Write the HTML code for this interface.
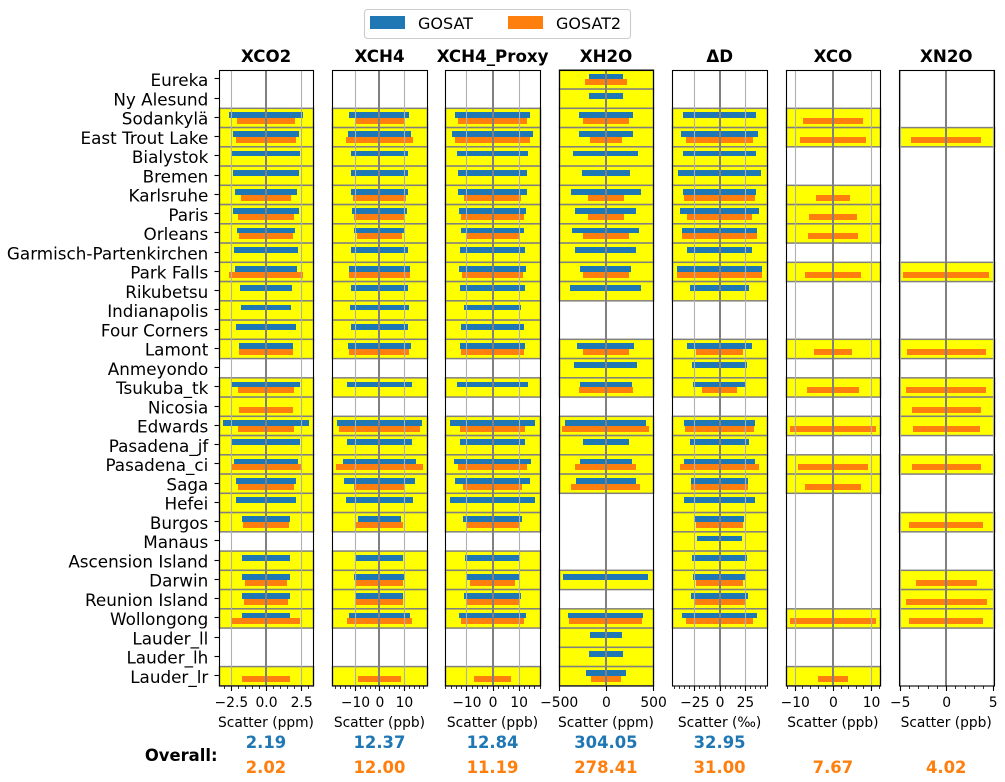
<!DOCTYPE html>
<html lang="en">
<head>
<meta charset="utf-8">
<title>Scatter by station</title>
<style>
html,body{margin:0;padding:0;background:#fff;}
#chart{display:block;}
text{font-family:"DejaVu Sans","Liberation Sans",sans-serif;fill:#000;}
</style>
</head>
<body>
<svg id="chart" xmlns="http://www.w3.org/2000/svg" width="1005" height="782" viewBox="0 0 1005 782"></svg>
<script>
const n = null;
const stations = ["Eureka","Ny Alesund","Sodankylä","East Trout Lake","Bialystok","Bremen","Karlsruhe","Paris","Orleans","Garmisch-Partenkirchen","Park Falls","Rikubetsu","Indianapolis","Four Corners","Lamont","Anmeyondo","Tsukuba_tk","Nicosia","Edwards","Pasadena_jf","Pasadena_ci","Saga","Hefei","Burgos","Manaus","Ascension Island","Darwin","Reunion Island","Wollongong","Lauder_ll","Lauder_lh","Lauder_lr"];
const seriesNames = ["GOSAT","GOSAT2"];

const xco2Gosat  = [n,n,2.63,2.36,2.39,2.36,2.21,2.36,2.07,2.29,2.21,1.82,1.79,2.11,1.93,n,2.43,n,3.07,2.39,2.29,2.14,2.11,1.71,n,1.71,1.68,1.71,1.71,n,n,n];
const xco2Gosat2 = [n,n,2.04,2.14,n,n,1.75,2.00,1.93,n,2.64,n,n,n,1.93,n,2.00,1.93,2.00,n,2.46,2.00,n,1.64,n,n,1.46,1.54,2.39,n,n,1.71];
const xch4Gosat  = [n,n,12.2,12.9,11.6,11.6,11.6,11.2,10.2,11.6,12.4,11.6,11.8,11.6,12.9,n,13.1,n,17.3,13.3,14.7,14.3,13.5,8.8,n,9.6,10.2,9.6,12.4,n,n,n];
const xch4Gosat2 = [n,n,9.9,13.5,n,n,10.8,10.4,9.2,n,12.4,n,n,n,12.2,n,n,n,16.5,n,17.6,10.2,n,9.4,n,n,9.6,9.6,13.1,n,n,8.8];
const proxyGosat  = [n,n,14.3,15.6,13.5,13.1,13.3,12.7,11.8,12.4,12.7,12.5,11.0,11.8,12.5,n,13.5,n,16.3,12.5,14.6,14.3,16.2,11.2,n,10.3,9.9,11.0,12.9,n,n,n];
const proxyGosat2 = [n,n,13.3,14.1,n,n,11.0,11.8,9.9,n,11.6,n,n,n,12.0,n,n,n,12.5,n,13.3,11.2,n,9.9,n,n,8.6,9.9,12.0,n,n,7.0];
const xh2oGosat  = [181,181,288,288,342,256,368,320,352,320,267,374,n,n,299,331,272,n,427,240,277,315,n,n,n,n,448,n,395,165,181,213];
const xh2oGosat2 = [224,n,245,171,n,n,192,192,245,n,245,n,n,n,245,n,288,n,459,n,320,363,n,n,n,n,n,n,384,n,n,155];
const deltaDGosat  = [n,n,36.0,38.0,36.0,41.0,36.0,39.0,37.0,32.1,41.9,29.1,n,n,32.1,27.1,25.7,n,35.0,29.1,35.0,28.1,34.5,24.2,22.2,27.1,25.7,28.1,37.0,n,n,n];
const deltaDGosat2 = [n,n,n,32.6,n,n,35.0,32.1,37.0,n,41.9,n,n,n,23.2,n,17.3,n,34.0,n,39.0,28.1,n,23.2,n,n,23.2,24.7,33.1,n,n,n];
const xcoGosat  = [n,n,n,n,n,n,n,n,n,n,n,n,n,n,n,n,n,n,n,n,n,n,n,n,n,n,n,n,n,n,n,n];
const xcoGosat2 = [n,n,7.85,8.64,n,n,4.32,6.28,6.54,n,7.33,n,n,n,4.97,n,6.81,n,11.26,n,9.16,7.33,n,n,n,n,n,n,11.26,n,n,3.93];
const xn2oGosat  = [n,n,n,n,n,n,n,n,n,n,n,n,n,n,n,n,n,n,n,n,n,n,n,n,n,n,n,n,n,n,n,n];
const xn2oGosat2 = [n,n,n,3.76,n,n,n,n,n,n,4.62,n,n,n,4.25,n,4.30,3.71,3.60,n,3.71,n,n,3.98,n,n,3.28,4.35,3.98,n,n,n];

const overallGosat  = [2.19,12.37,12.84,304.05,32.95,n,n];
const overallGosat2 = [2.02,12.00,11.19,278.41,31.00,7.67,4.02];

const panelTitles = ["XCO2","XCH4","XCH4_Proxy","XH2O","ΔD","XCO","XN2O"];
const axisUnits = ["Scatter (ppm)","Scatter (ppb)","Scatter (ppb)","Scatter (ppm)","Scatter (‰)","Scatter (ppb)","Scatter (ppb)"];
const axisLimits = [3.36,19.3,18.06,500,46.6,12.37,5.08];
const majorTicks = [[-2.5,0,2.5],[-10,0,10],[-10,0,10],[-500,0,500],[-25,0,25],[-10,0,10],[-5,0,5]];
const majorTickLabels = [["−2.5","0.0","2.5"],["−10","0","10"],["−10","0","10"],["−500","0","500"],["−25","0","25"],["−10","0","10"],["−5","0","5"]];
const minorSteps = [0.5,2,2,0,5,2,1];
const gosatSeries = [xco2Gosat,xch4Gosat,proxyGosat,xh2oGosat,deltaDGosat,xcoGosat,xn2oGosat];
const gosat2Series = [xco2Gosat2,xch4Gosat2,proxyGosat2,xh2oGosat2,deltaDGosat2,xcoGosat2,xn2oGosat2];

/* page layout (not data) */
const frameLeft = [219.5,332.5,445.5,559.5,672.5,786.5,899.5];
const frameRight = [313.5,427.5,540.5,653.5,767.5,880.5,994.5];
const zeroCenter = [266.5,379.95,493,606.4,720.1,833.4,946.7];

const BLUE = "#1f77b4", ORANGE = "#ff7f0e", YELLOW = "#ffff00";
const svg = document.getElementById("chart");
const NS = "http://www.w3.org/2000/svg";

function make(tag, parent, attrs, content) {
  const el = document.createElementNS(NS, tag);
  for (const k in attrs) el.setAttribute(k, attrs[k]);
  if (content !== undefined) el.textContent = content;
  parent.appendChild(el);
  return el;
}

const HALF_WIDTH = 47.2;
function xScale(p, v) {
  return zeroCenter[p] + v / axisLimits[p] * HALF_WIDTH;
}
const rowCenter = r => 79.45 + 19.25 * r;
const rowEdge = r => 69.83 + 19.25 * r;
const BAR_H = 5.8;
const AXIS_BOTTOM = 686;

/* legend */
const legend = make("g", svg, {});


const legendBox = make("rect", legend, {x:364.5,y:9.5,width:266,height:29,rx:3,ry:3,fill:"#fff",stroke:"#cccccc","stroke-width":1.1});


const legendSwatchA = make("rect", legend, {x:370,y:16,width:35,height:13,fill:BLUE});


const legendTextA = make("text", legend, {x:418,y:29,"font-size":16}, seriesNames[0]);


const legendSwatchB = make("rect", legend, {x:508,y:16,width:35,height:13,fill:ORANGE});


const legendTextB = make("text", legend, {x:556,y:29,"font-size":16}, seriesNames[1]);



/* station labels and y ticks */
const yAxis = make("g", svg, {});


stations.forEach((name, r) => {
  const c = rowCenter(r);
  const tick = make("line", yAxis, {x1:214.5,x2:219.5,y1:Math.round(c)-0.5,y2:Math.round(c)-0.5,stroke:"#000","stroke-width":1.1});
  
  
  const label = make("text", yAxis, {x:208.3,y:c+6.7,"text-anchor":"end","font-size":16.8}, name);
  
  
});

function drawBar(g, p, r, value, color, upper, seriesName) {
  const x0 = Math.floor(xScale(p, -value) - 0.2);
  const x1 = Math.floor(xScale(p, value) + 0.2);
  const c = rowCenter(r);
  const y0 = upper ? Math.round(c - BAR_H) : Math.round(c);
  const y1 = upper ? Math.round(c) : Math.round(c + BAR_H);
  const bar = make("rect", g, {x:x0,y:y0,width:x1-x0,height:y1-y0,fill:color});
  
  
}

panelTitles.forEach((title, p) => {
  const L = frameLeft[p], R = frameRight[p], C = zeroCenter[p];
  const g = make("g", svg, {});
  
  

  const heading = make("text", g, {x:C-0.4,y:62,"text-anchor":"middle","font-size":16.67,"font-weight":"bold"}, title);
  
  

  /* highlighted rows: any station with a value in this panel */
  stations.forEach((_, r) => {
    if (gosatSeries[p][r] === null && gosat2Series[p][r] === null) return;
    const band = make("rect", g, {x:L,y:rowEdge(r),width:R-L,height:19.25,fill:YELLOW,stroke:"#808080","stroke-width":1.5});
    
    
  });

  stations.forEach((_, r) => {
    const a = gosatSeries[p][r], b = gosat2Series[p][r];
    if (a !== null) drawBar(g, p, r, a, BLUE, true, 'gosat');
    if (b !== null) drawBar(g, p, r, b, ORANGE, false, 'gosat2');
  });

  /* grid */
  majorTicks[p].forEach(v => {
    if (v === 0) return;
    const x = Math.floor(xScale(p, v)) + 0.5;
    const grid = make("line", g, {x1:x,x2:x,y1:70,y2:AXIS_BOTTOM,stroke:"#b0b0b0","stroke-width":1.1});
    
    
  });
  const zx = Math.floor(xScale(p, 0));
  const zero = make("line", g, {x1:zx,x2:zx,y1:70,y2:AXIS_BOTTOM,stroke:"#808080","stroke-width":2});
  
  

  /* spines */
  const frame = make("rect", g, {x:L,y:70.5,width:R-L,height:AXIS_BOTTOM-70.5,fill:"none",stroke:"#000","stroke-width":1.1});
  
  

  /* minor ticks */
  const step = minorSteps[p], lim = axisLimits[p];
  if (step > 0) {
    for (let k = Math.ceil(-lim / step); k * step <= lim; k++) {
      const x = Math.floor(xScale(p, k * step)) + 0.5;
      const minor = make("line", g, {x1:x,x2:x,y1:AXIS_BOTTOM,y2:AXIS_BOTTOM+3,stroke:"#000","stroke-width":0.8});
      
      
    }
  }

  /* major ticks */
  majorTicks[p].forEach((v, t) => {
    const tx = xScale(p, v);
    const x = Math.floor(tx) + 0.5;
    const tick = make("line", g, {x1:x,x2:x,y1:AXIS_BOTTOM,y2:AXIS_BOTTOM+5,stroke:"#000","stroke-width":1.1});
    
    
    const label = make("text", g, {x:tx,y:707,"text-anchor":"middle","font-size":13.89}, majorTickLabels[p][t]);
    
    
  });

  const unit = make("text", g, {x:C-0.5,y:727,"text-anchor":"middle","font-size":13.8}, axisUnits[p]);
  
  

  if (overallGosat[p] !== null) {
    const v1 = make("text", g, {x:C-0.5,y:748,"text-anchor":"middle","font-size":16.4,"font-weight":"bold",style:"fill:"+BLUE}, overallGosat[p].toFixed(2));
    
    
  }
  if (overallGosat2[p] !== null) {
    const v2 = make("text", g, {x:C-0.5,y:773,"text-anchor":"middle","font-size":16.4,"font-weight":"bold",style:"fill:"+ORANGE}, overallGosat2[p].toFixed(2));
    
    
  }
});

const overall = make("text", svg, {x:217.5,y:761,"text-anchor":"end","font-size":16.4,"font-weight":"bold"}, "Overall:");


</script>
</body>
</html>
